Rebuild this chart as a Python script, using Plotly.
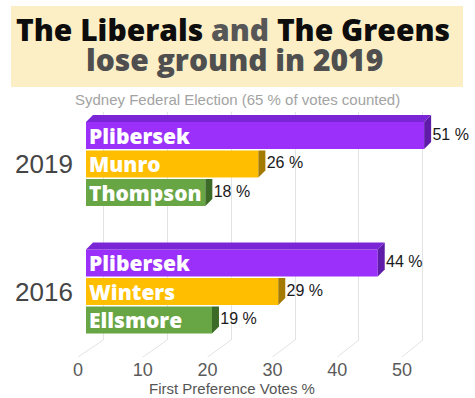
import plotly.graph_objects as go

# ---------------- data ----------------
years = ["2019", "2016"]
candidates_2019 = ["Plibersek", "Munro", "Thompson"]
votes_2019 = [51, 26, 18]
candidates_2016 = ["Plibersek", "Winters", "Ellsmore"]
votes_2016 = [44, 29, 19]
party_front = ["#9A30FA", "#FFBF00", "#68A545"]
party_top = ["#7B26D6", "#D9A200", "#4F8A35"]
party_side = ["#5E1CA8", "#A57A00", "#3C6B28"]
tick_values = [0, 10, 20, 30, 40, 50]

title_line1 = "The Liberals <span style='color:#575757'>and</span> The Greens"
title_line2 = "lose ground in 2019"
subtitle = "Sydney Federal Election (65 % of votes counted)"
x_title = "First Preference Votes %"

# ---------------- geometry helpers ----------------
W, H = 475, 398
def px_x(p):
    return p / W
def px_y(p):
    return 1 - p / H

dom_l, dom_r = 70, 475
dom_t, dom_b = 112, 340
bar0, bar_k = 86.0, 6.63      # bar front faces
back0, back_k = 103.3, 6.39   # back wall gridlines
front0, front_k = 78.0, 6.48  # front floor edge with tick labels
front_y = 357

def rng(z0, k):
    return [(dom_l - z0) / k, (dom_r - z0) / k]

slot = 28.5
ref_row = 291.5
y_rng = [(ref_row - dom_b) / slot, (ref_row - dom_t) / slot]
group_center = {"2019": (ref_row - 164) / slot, "2016": 0.0}
bar_w = 0.95
dx = 7 / bar_k
dy = 7 / slot

fig = go.Figure()

groups = [("2019", candidates_2019, votes_2019), ("2016", candidates_2016, votes_2016)]

for i in [2, 1, 0]:
    ys, xs, names = [], [], []
    for yr, cands, votes in groups:
        ys.append(group_center[yr] + (1 - i))
        xs.append(votes[i])
        names.append(cands[i])
    fig.add_trace(go.Bar(
        orientation="h", x=xs, y=ys, width=bar_w,
        marker=dict(color=party_front[i], line=dict(width=0)),
        text=names, textposition="inside", insidetextanchor="start",
        constraintext="none", textangle=0,
        textfont=dict(color="white", size=21, family="Open Sans", weight=800),
        hoverinfo="skip", showlegend=False, xaxis="x", yaxis="y",
    ))

for yr, cands, votes in groups:
    for i in [2, 1, 0]:
        v = votes[i]
        yc = group_center[yr] + (1 - i)
        yt, yb = yc + bar_w / 2, yc - bar_w / 2
        if i == 0:
            fig.add_trace(go.Scatter(
                x=[0, v, v + dx, dx, 0], y=[yt, yt, yt + dy, yt + dy, yt],
                mode="lines", fill="toself", fillcolor=party_top[i],
                line=dict(width=0), hoverinfo="skip", showlegend=False))
            sx = [v, v, v + dx, v + dx, v]
            sy = [yb, yt, yt + dy, yb + dy, yb]
        else:
            sx = [v, v, v + dx, v + dx, v]
            sy = [yb, yt, yt, yb + dy, yb]
        fig.add_trace(go.Scatter(
            x=sx, y=sy, mode="lines", fill="toself", fillcolor=party_side[i],
            line=dict(width=0), hoverinfo="skip", showlegend=False))

lx, ly, lt = [], [], []
for yr, cands, votes in groups:
    for i, v in enumerate(votes):
        lx.append(v + dx + 0.2)
        ly.append(group_center[yr] + (1 - i))
        lt.append(f"{v} %")
fig.add_trace(go.Scatter(
    x=lx, y=ly, text=lt, mode="text", textposition="middle right",
    textfont=dict(size=16, color="#1a1a1a", family="Liberation Sans"),
    hoverinfo="skip", showlegend=False, cliponaxis=False))

fig.add_trace(go.Scatter(x=[None], y=[None], xaxis="x2", yaxis="y",
                         showlegend=False, hoverinfo="skip"))

shapes = []
for t in tick_values:
    front_px = front0 + front_k * t
    shapes.append(dict(
        type="line", xref="x2", yref="paper",
        x0=t, y0=px_y(dom_b), x1=(front_px - back0) / back_k, y1=px_y(front_y),
        line=dict(color="#e3e3e3", width=1), layer="below"))
shapes.append(dict(type="rect", xref="paper", yref="paper",
                   x0=px_x(11), x1=px_x(463), y0=px_y(87), y1=px_y(6),
                   fillcolor="#FCEFC6", line=dict(width=0), layer="below"))

annotations = [
    dict(text=title_line1, x=px_x(233), y=px_y(30), xref="paper", yref="paper",
         showarrow=False, xanchor="center", yanchor="middle",
         font=dict(size=30, color="#0d0d0d", family="Open Sans", weight=800)),
    dict(text=title_line2, x=px_x(234), y=px_y(60), xref="paper", yref="paper",
         showarrow=False, xanchor="center", yanchor="middle",
         font=dict(size=30, color="#4f4f4f", family="Open Sans", weight=800)),
    dict(text=subtitle, x=px_x(237.5), y=px_y(100), xref="paper", yref="paper",
         showarrow=False, xanchor="center", yanchor="middle",
         font=dict(size=15, color="#a3a3a3", family="Liberation Sans")),
    dict(text=x_title, x=px_x(231.5), y=px_y(388), xref="paper", yref="paper",
         showarrow=False, xanchor="center", yanchor="middle",
         font=dict(size=15, color="#555555", family="Liberation Sans")),
]
for yr in years:
    annotations.append(dict(
        text=yr, x=px_x(75), y=group_center[yr], xref="paper", yref="y",
        showarrow=False, xanchor="right", yanchor="middle",
        font=dict(size=26, color="#454545", family="Liberation Sans")))

dom_x = [px_x(dom_l), px_x(dom_r)]
fig.update_layout(
    width=W, height=H, autosize=False,
    margin=dict(l=0, r=0, t=0, b=0),
    paper_bgcolor="white", plot_bgcolor="rgba(0,0,0,0)",
    barmode="overlay", showlegend=False, hovermode=False,
    xaxis=dict(domain=dom_x, range=rng(bar0, bar_k), visible=False, fixedrange=True),
    xaxis2=dict(domain=dom_x, range=rng(back0, back_k), overlaying="x", anchor="y",
                tickvals=tick_values, showgrid=True, gridcolor="#e3e3e3", gridwidth=1,
                showticklabels=False, zeroline=False, showline=False, ticks=""),
    xaxis3=dict(domain=dom_x, range=rng(front0, front_k), overlaying="x",
                anchor="free", position=px_y(front_y), side="bottom",
                tickvals=tick_values, showgrid=False, zeroline=False, showline=False,
                ticks="", tickfont=dict(size=18, color="#5a5a5a", family="Liberation Sans")),
    yaxis=dict(domain=[px_y(dom_b), px_y(dom_t)], range=y_rng, visible=False, fixedrange=True),
    shapes=shapes, annotations=annotations,
)
fig.add_trace(go.Scatter(x=[None], y=[None], xaxis="x3", yaxis="y",
                         showlegend=False, hoverinfo="skip"))

fig.write_html(
    "out.html",
    config={"displayModeBar": False, "staticPlot": True},
    post_script="document.body.style.margin='0';document.body.style.overflow='hidden';",
)
